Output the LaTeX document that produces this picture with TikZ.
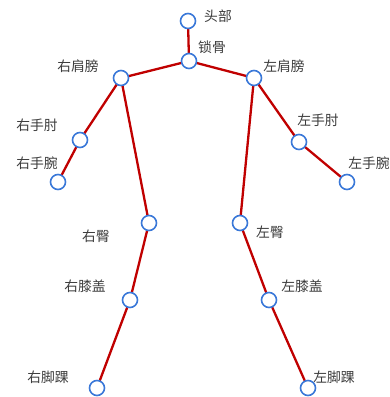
\documentclass[tikz,border=0pt]{standalone}
\usepackage{fontspec}
\newfontfamily\cjk{Noto Sans CJK SC}
\definecolor{bonered}{RGB}{192,0,0}
\definecolor{jointblue}{RGB}{58,120,216}
\definecolor{labelgray}{RGB}{60,60,60}
\begin{document}
\begin{tikzpicture}[x=1pt,y=-1pt,
  joint/.style={circle,draw=jointblue,line width=1.6pt,fill=white,minimum size=15pt,inner sep=0pt},
  bone/.style={draw=bonered,line width=2.3pt},
  lbl/.style={font=\cjk\fontsize{13.8}{16}\selectfont,text=labelgray,inner sep=0pt}]
\useasboundingbox (0,0) rectangle (390,397);
% joint positions
\coordinate (head) at (188,21);
\coordinate (neck) at (189,61);
\coordinate (rsh) at (121,78);
\coordinate (lsh) at (254,78);
\coordinate (rel) at (80,140);
\coordinate (lel) at (299,142);
\coordinate (rwr) at (58,182);
\coordinate (lwr) at (347,182);
\coordinate (rhip) at (149,223);
\coordinate (lhip) at (240,223);
\coordinate (rkn) at (130,300);
\coordinate (lkn) at (269,300);
\coordinate (ran) at (97,388);
\coordinate (lan) at (308,388);
% bones
\draw[bone] (head) -- (neck);
\draw[bone] (neck) -- (rsh);
\draw[bone] (neck) -- (lsh);
\draw[bone] (rsh) -- (rel);
\draw[bone] (rel) -- (rwr);
\draw[bone] (lsh) -- (lel);
\draw[bone] (lel) -- (lwr);
\draw[bone] (rsh) -- (rhip);
\draw[bone] (rhip) -- (rkn);
\draw[bone] (rkn) -- (ran);
\draw[bone] (lsh) -- (lhip);
\draw[bone] (lhip) -- (lkn);
\draw[bone] (lkn) -- (lan);
% joints
\foreach \j in {head,neck,rsh,lsh,rel,lel,rwr,lwr,rhip,lhip,rkn,lkn,ran,lan}
  \node[joint] (n-\j) at (\j) {};
% labels
\node[lbl] (t-head) at (218,16) {头部};
\node[lbl] (t-neck) at (212,47) {锁骨};
\node[lbl] (t-rsh) at (78,66) {右肩膀};
\node[lbl] (t-lsh) at (284,66) {左肩膀};
\node[lbl] (t-rel) at (37,125) {右手肘};
\node[lbl] (t-lel) at (318,120) {左手肘};
\node[lbl] (t-rwr) at (37,163) {右手腕};
\node[lbl] (t-lwr) at (369,163) {左手腕};
\node[lbl] (t-rhip) at (96,236) {右臀};
\node[lbl] (t-lhip) at (270,232) {左臀};
\node[lbl] (t-rkn) at (85,286) {右膝盖};
\node[lbl] (t-lkn) at (302,286) {左膝盖};
\node[lbl] (t-ran) at (48,377) {右脚踝};
\node[lbl] (t-lan) at (334,377) {左脚踝};
\end{tikzpicture}
\end{document}
